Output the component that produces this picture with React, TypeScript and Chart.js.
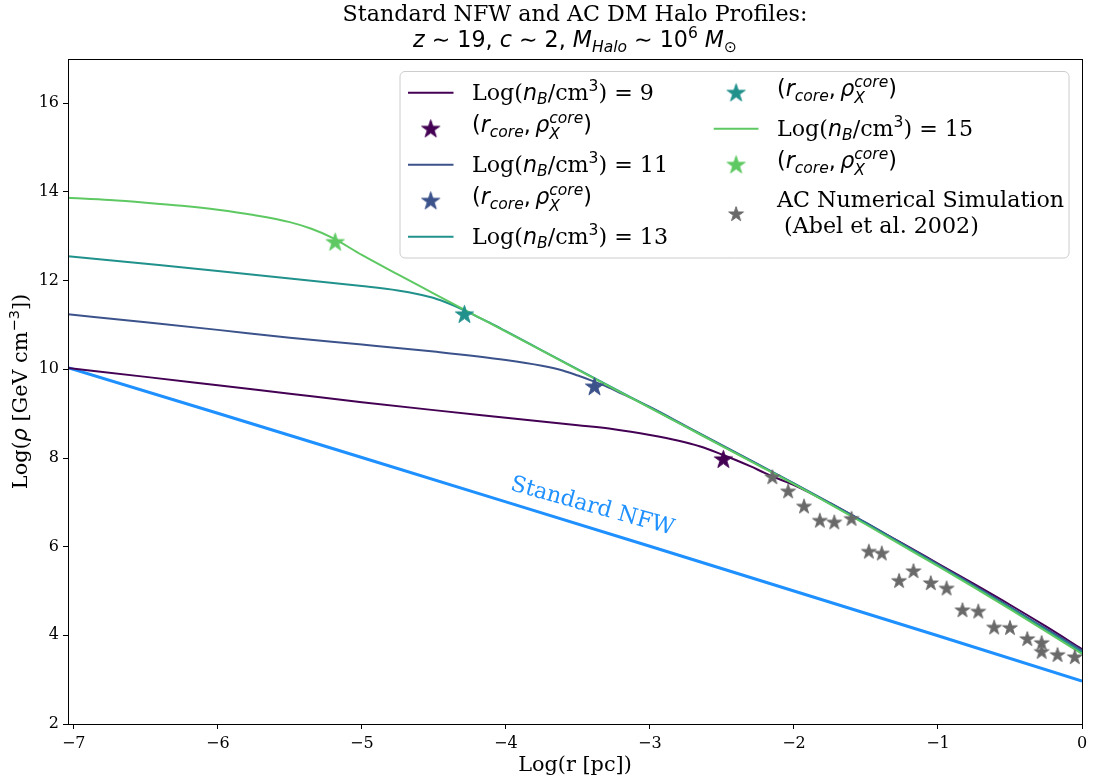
import React, { useEffect, useRef } from "react";
import { Chart, registerables } from "chart.js";

Chart.register(...registerables);

// ---------- data ----------
const X_MIN = -7.04;
const X_MAX = 0;
const Y_MIN = 2;
const Y_MAX = 17;
const xTicks = [-7, -6, -5, -4, -3, -2, -1, 0];
const yTicks = [2, 4, 6, 8, 10, 12, 14, 16];

const nLabels = [9, 11, 13, 15];

const nfwX = [-7.04, -6, -5, -4, -3, -2, -1, 0];
const nfwY = [10.04, 9.01, 8.01, 7.01, 6.01, 5.0, 3.99, 2.97];

const purpleX = [-7.04, -6.5, -6.0, -5.5, -5.0, -4.5, -4.0, -3.5, -3.25, -3.0, -2.8, -2.65, -2.5, -2.4, -2.3, -2.2, -2.1, -2.0, -1.75, -1.5, -1.25, -1.0, -0.75, -0.5, -0.25, 0];
const purpleY = [10.03, 9.83, 9.64, 9.45, 9.26, 9.08, 8.91, 8.74, 8.65, 8.52, 8.39, 8.26, 8.08, 7.95, 7.81, 7.66, 7.52, 7.39, 6.98, 6.53, 6.08, 5.62, 5.16, 4.69, 4.2, 3.69];

const blueX = [-7.04, -6.5, -6.0, -5.5, -5.0, -4.5, -4.0, -3.75, -3.6, -3.5, -3.4, -3.3, -3.2, -3.0, -2.75, -2.5, -2.25, -2.0, -1.75, -1.5, -1.25, -1.0, -0.75, -0.5, -0.25, 0];
const blueY = [11.24, 11.06, 10.89, 10.71, 10.56, 10.4, 10.21, 10.08, 9.97, 9.86, 9.74, 9.61, 9.46, 9.15, 8.72, 8.29, 7.86, 7.43, 6.99, 6.54, 6.07, 5.6, 5.13, 4.64, 4.15, 3.66];

const tealX = [-7.04, -6.5, -6.0, -5.5, -5.0, -4.75, -4.6, -4.5, -4.4, -4.3, -4.2, -4.1, -4.0, -3.75, -3.5, -3.25, -3.0, -2.75, -2.5, -2.25, -2.0, -1.75, -1.5, -1.25, -1.0, -0.75, -0.5, -0.25, 0];
const tealY = [12.55, 12.38, 12.22, 12.05, 11.88, 11.78, 11.69, 11.61, 11.49, 11.35, 11.19, 11.03, 10.86, 10.43, 10.0, 9.57, 9.14, 8.71, 8.28, 7.85, 7.42, 6.97, 6.52, 6.05, 5.58, 5.1, 4.62, 4.12, 3.62];

const greenX = [-7.04, -6.75, -6.5, -6.25, -6.0, -5.75, -5.5, -5.35, -5.2, -5.0, -4.75, -4.5, -4.25, -4.0, -3.75, -3.5, -3.25, -3.0, -2.75, -2.5, -2.25, -2.0, -1.75, -1.5, -1.25, -1.0, -0.75, -0.5, -0.25, 0];
const greenY = [13.87, 13.82, 13.76, 13.69, 13.6, 13.48, 13.32, 13.17, 12.96, 12.58, 12.14, 11.71, 11.28, 10.85, 10.42, 9.99, 9.56, 9.13, 8.7, 8.27, 7.84, 7.41, 6.96, 6.5, 6.03, 5.56, 5.08, 4.59, 4.09, 3.58];

const coreX = [-2.49, -3.385, -4.288, -5.185];
const coreY = [7.97, 9.61, 11.24, 12.87];

const acX = [-2.15, -2.04, -1.93, -1.82, -1.72, -1.6, -1.48, -1.39, -1.27, -1.17, -1.05, -0.94, -0.83, -0.72, -0.61, -0.5, -0.38, -0.28, -0.28, -0.17, -0.05];
const acY = [7.57, 7.25, 6.91, 6.59, 6.55, 6.63, 5.89, 5.85, 5.23, 5.45, 5.18, 5.06, 4.57, 4.54, 4.18, 4.17, 3.92, 3.83, 3.63, 3.56, 3.51];

const nfwLabelX = -3.4;
const nfwLabelY = 6.9;

// ---------- style ----------
const COLORS = ["#440154", "#3b528b", "#21918c", "#5ec962"];
const NFW_COLOR = "#1e90ff";
const AC_COLOR = "#696969";
const SERIF = '"DejaVu Serif", serif';
const SANS = '"DejaVu Sans", sans-serif';
const LEG = 22.2;
const TITLE = 22.2;
const AXL = 20.8;
const TICK = 16;

type Seg = { t: string; font: string; dy?: number; stack?: boolean };
const F = (size: number, fam: string, it = false) => `${it ? "italic " : ""}${size}px ${fam}`;

function rich(ctx: CanvasRenderingContext2D, segs: Seg[], x: number, y: number, draw: boolean): number {
  let cx = x;
  let lastStart = x;
  let lastW = 0;
  for (const s of segs) {
    ctx.font = s.font;
    const w = ctx.measureText(s.t).width;
    if (s.stack) {
      if (draw) ctx.fillText(s.t, lastStart, y + (s.dy || 0));
      const nw = Math.max(lastW, w);
      cx = lastStart + nw;
      lastW = nw;
    } else {
      if (draw) ctx.fillText(s.t, cx, y + (s.dy || 0));
      lastStart = cx;
      lastW = w;
      cx += w;
    }
  }
  return cx - x;
}

function drawRich(ctx: CanvasRenderingContext2D, segs: Seg[], x: number, y: number, align: "left" | "center") {
  ctx.textAlign = "left";
  ctx.textBaseline = "alphabetic";
  const w = rich(ctx, segs, 0, 0, false);
  const sx = align === "center" ? x - w / 2 : x;
  rich(ctx, segs, sx, y, true);
}

function nLabel(n: number): Seg[] {
  const S = LEG * 0.7;
  return [
    { t: "Log(", font: F(LEG, SERIF) },
    { t: "n", font: F(LEG, SANS, true) },
    { t: "B", font: F(S, SANS, true), dy: 0.2 * LEG },
    { t: "/cm", font: F(LEG, SERIF) },
    { t: "3", font: F(S, SANS), dy: -0.4 * LEG },
    { t: `) = ${n}`, font: F(LEG, SERIF) },
  ];
}

function coreLabel(): Seg[] {
  const S = LEG * 0.7;
  return [
    { t: "(", font: F(LEG, SANS) },
    { t: "r", font: F(LEG, SANS, true) },
    { t: "core", font: F(S, SANS, true), dy: 0.22 * LEG },
    { t: ",\u2009", font: F(LEG, SANS) },
    { t: "\u03c1", font: F(LEG, SANS, true) },
    { t: "X", font: F(S, SANS, true), dy: 0.3 * LEG },
    { t: "core", font: F(S, SANS, true), dy: -0.42 * LEG, stack: true },
    { t: ")", font: F(LEG, SANS) },
  ];
}

function makeStar(color: string, size: number): HTMLCanvasElement {
  const c = document.createElement("canvas");
  const s = Math.ceil(size) + 2;
  c.width = s;
  c.height = s;
  const g = c.getContext("2d")!;
  const R = size / 2;
  const r = R * 0.381966;
  g.beginPath();
  for (let i = 0; i < 10; i++) {
    const rad = i % 2 === 0 ? R : r;
    const a = -Math.PI / 2 + (i * Math.PI) / 5;
    const px = s / 2 + rad * Math.cos(a);
    const py = s / 2 + rad * Math.sin(a) + R * 0.05;
    if (i === 0) g.moveTo(px, py);
    else g.lineTo(px, py);
  }
  g.closePath();
  g.fillStyle = color;
  g.fill();
  g.strokeStyle = color;
  g.lineWidth = 1;
  g.lineJoin = "miter";
  g.stroke();
  return c;
}

const pts = (xs: number[], ys: number[]) => xs.map((x, i) => ({ x, y: ys[i] }));
const fmt = (v: number) => (v < 0 ? "\u2212" + Math.abs(v) : String(v));

export default function App() {
  const ref = useRef<HTMLCanvasElement | null>(null);

  useEffect(() => {
    const canvas = ref.current;
    if (!canvas) return;
    const coreStars = COLORS.map((c) => makeStar(c, 19));
    const acStar = makeStar(AC_COLOR, 15.5);

    const curves = [
      [purpleX, purpleY],
      [blueX, blueY],
      [tealX, tealY],
      [greenX, greenY],
    ];

    const datasets: any[] = [];
    datasets.push({
      data: pts(nfwX, nfwY),
      showLine: true,
      borderColor: NFW_COLOR,
      borderWidth: 3,
      pointRadius: 0,
      order: 10,
    });
    curves.forEach(([xs, ys], i) => {
      datasets.push({
        data: pts(xs, ys),
        showLine: true,
        borderColor: COLORS[i],
        borderWidth: 2,
        pointRadius: 0,
        cubicInterpolationMode: "monotone",
        order: 9 - i,
      });
      datasets.push({
        data: [{ x: coreX[i], y: coreY[i] }],
        showLine: false,
        pointStyle: coreStars[i],
        pointRadius: 10,
        order: 4 - i,
      });
    });
    datasets.push({
      data: pts(acX, acY),
      showLine: false,
      pointStyle: acStar,
      pointRadius: 8,
      order: 0,
    });

    const deco = {
      id: "deco",
      afterDraw(chart: any) {
        const ctx: CanvasRenderingContext2D = chart.ctx;
        const { left, right, top, bottom } = chart.chartArea;
        const xs = chart.scales.x;
        const ys = chart.scales.y;
        ctx.save();
        // frame
        ctx.strokeStyle = "#000";
        ctx.lineWidth = 1;
        ctx.strokeRect(left + 0.5, top + 0.5, right - left, bottom - top);

        // NFW label
        ctx.save();
        ctx.translate(xs.getPixelForValue(nfwLabelX), ys.getPixelForValue(nfwLabelY));
        ctx.rotate((15.5 * Math.PI) / 180);
        ctx.fillStyle = NFW_COLOR;
        ctx.font = F(LEG, SERIF);
        ctx.textAlign = "center";
        ctx.textBaseline = "middle";
        ctx.fillText("Standard NFW", 0, 0);
        ctx.restore();

        // title
        const cx = (left + right) / 2;
        ctx.fillStyle = "#000";
        drawRich(ctx, [{ t: "Standard NFW and AC DM Halo Profiles:", font: F(TITLE, SERIF) }], cx, 21, "center");
        const TS = TITLE * 0.7;
        drawRich(
          ctx,
          [
            { t: "z", font: F(TITLE, SANS, true) },
            { t: " \u223c 19, ", font: F(TITLE, SANS) },
            { t: "c", font: F(TITLE, SANS, true) },
            { t: " \u223c 2, ", font: F(TITLE, SANS) },
            { t: "M", font: F(TITLE, SANS, true) },
            { t: "Halo", font: F(TS, SANS, true), dy: 0.22 * TITLE },
            { t: " \u223c 10", font: F(TITLE, SANS) },
            { t: "6", font: F(TS, SANS), dy: -0.4 * TITLE },
            { t: " ", font: F(TITLE, SANS) },
            { t: "M", font: F(TITLE, SANS, true) },
            { t: "\u2299", font: F(TS, SANS), dy: 0.22 * TITLE },
          ],
          cx,
          47,
          "center"
        );

        // axis labels
        drawRich(ctx, [{ t: "Log(r [pc])", font: F(AXL, SERIF) }], cx, 771, "center");
        ctx.save();
        ctx.translate(27, (top + bottom) / 2);
        ctx.rotate(-Math.PI / 2);
        drawRich(
          ctx,
          [
            { t: "Log(", font: F(AXL, SERIF) },
            { t: "\u03c1", font: F(AXL, SANS, true) },
            { t: " [GeV cm", font: F(AXL, SERIF) },
            { t: "\u22123", font: F(AXL * 0.7, SANS), dy: -0.4 * AXL },
            { t: "])", font: F(AXL, SERIF) },
          ],
          0,
          0,
          "center"
        );
        ctx.restore();

        // legend
        const bx = 400, by = 71.5, bw = 669, bh = 186.5, rad = 5;
        ctx.beginPath();
        ctx.moveTo(bx + rad, by);
        ctx.arcTo(bx + bw, by, bx + bw, by + bh, rad);
        ctx.arcTo(bx + bw, by + bh, bx, by + bh, rad);
        ctx.arcTo(bx, by + bh, bx, by, rad);
        ctx.arcTo(bx, by, bx + bw, by, rad);
        ctx.closePath();
        ctx.fillStyle = "rgba(255,255,255,0.8)";
        ctx.fill();
        ctx.strokeStyle = "#cccccc";
        ctx.lineWidth = 1;
        ctx.stroke();

        const rowY = [92.8, 128.8, 164.8, 200.8, 236.8];
        const col1 = { h0: 408, h1: 453.5, tx: 472 };
        const col2 = { h0: 713.7, h1: 758.5, tx: 777 };
        const lineHandle = (c: any, y: number, color: string) => {
          ctx.beginPath();
          ctx.moveTo(c.h0, y);
          ctx.lineTo(c.h1, y);
          ctx.strokeStyle = color;
          ctx.lineWidth = 2;
          ctx.stroke();
        };
        const starHandle = (c: any, y: number, img: HTMLCanvasElement) => {
          const mx = (c.h0 + c.h1) / 2;
          ctx.drawImage(img, mx - img.width / 2, y - img.height / 2);
        };
        ctx.fillStyle = "#000";
        const entries: any[] = [
          { col: col1, y: rowY[0], kind: "line", i: 0 },
          { col: col1, y: rowY[1], kind: "star", i: 0 },
          { col: col1, y: rowY[2], kind: "line", i: 1 },
          { col: col1, y: rowY[3], kind: "star", i: 1 },
          { col: col1, y: rowY[4], kind: "line", i: 2 },
          { col: col2, y: rowY[0], kind: "star", i: 2 },
          { col: col2, y: rowY[1], kind: "line", i: 3 },
          { col: col2, y: rowY[2], kind: "star", i: 3 },
        ];
        for (const e of entries) {
          if (e.kind === "line") {
            lineHandle(e.col, e.y, COLORS[e.i]);
            ctx.fillStyle = "#000";
            drawRich(ctx, nLabel(nLabels[e.i]), e.col.tx, e.y + 7, "left");
          } else {
            starHandle(e.col, e.y, coreStars[e.i]);
            ctx.fillStyle = "#000";
            drawRich(ctx, coreLabel(), e.col.tx, e.y + 3.5, "left");
          }
        }
        starHandle(col2, 214, acStar);
        ctx.fillStyle = "#000";
        drawRich(ctx, [{ t: "AC Numerical Simulation", font: F(LEG, SERIF) }], col2.tx, 207, "left");
        drawRich(ctx, [{ t: " (Abel et al. 2002)", font: F(LEG, SERIF) }], col2.tx, 233, "left");
        ctx.restore();
      },
    };

    const chart = new Chart(canvas, {
      type: "scatter",
      data: { datasets },
      options: {
        responsive: false,
        animation: false,
        devicePixelRatio: 1,
        events: [],
        layout: { padding: { left: 0, right: 8, top: 59, bottom: 0 } },
        plugins: { legend: { display: false }, title: { display: false }, tooltip: { enabled: false } },
        scales: {
          x: {
            type: "linear",
            min: X_MIN,
            max: X_MAX,
            afterBuildTicks: (s: any) => {
              s.ticks = xTicks.map((v) => ({ value: v }));
            },
            afterFit: (s: any) => {
              s.height = 57;
            },
            ticks: {
              autoSkip: false,
              maxRotation: 0,
              padding: 5,
              color: "#000",
              font: { family: "DejaVu Serif", size: TICK },
              callback: (v: any) => fmt(Number(v)),
            },
            grid: { display: true, drawOnChartArea: false, drawTicks: true, tickLength: 5, color: "#000", lineWidth: 1 },
            border: { display: false },
          },
          y: {
            type: "linear",
            min: Y_MIN,
            max: Y_MAX,
            afterBuildTicks: (s: any) => {
              s.ticks = yTicks.map((v) => ({ value: v }));
            },
            afterFit: (s: any) => {
              s.width = 68;
            },
            ticks: {
              autoSkip: false,
              padding: 4,
              color: "#000",
              font: { family: "DejaVu Serif", size: TICK },
              callback: (v: any) => fmt(Number(v)),
            },
            grid: { display: true, drawOnChartArea: false, drawTicks: true, tickLength: 5, color: "#000", lineWidth: 1 },
            border: { display: false },
          },
        },
      } as any,
      plugins: [deco],
    });
    return () => chart.destroy();
  }, []);

  return (
    <div style={{ position: "absolute", left: 0, top: 0, width: 1093, height: 781, background: "#fff" }}>
      <canvas ref={ref} width={1093} height={781} style={{ width: 1093, height: 781, display: "block" }} />
    </div>
  );
}
